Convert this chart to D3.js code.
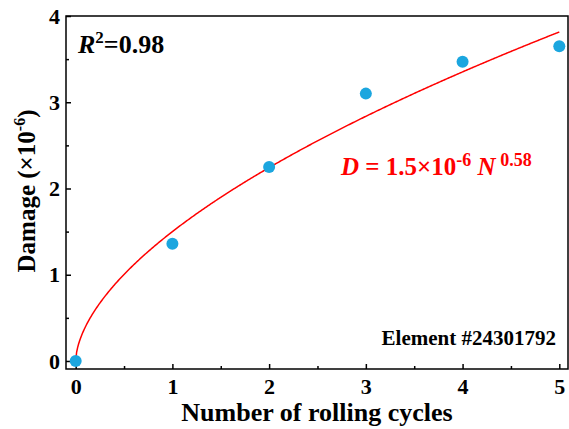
<!DOCTYPE html>
<html><head><meta charset="utf-8">
<script src="https://cdn.jsdelivr.net/npm/d3@7"></script>
<style>body{margin:0;background:#fff;} svg{display:block;font-family:"Liberation Serif","Times New Roman",serif;font-weight:bold;}</style>
</head><body>
<svg id="c" width="569" height="429"></svg>
<script>
const cycles = [0, 1, 2, 3, 4, 5];
const damage = [0, 1.36, 2.25, 3.10, 3.47, 3.65];
const xTicks = [0, 1, 2, 3, 4, 5];
const yTicks = [0, 1, 2, 3, 4];
const fitA = 1.5, fitB = 0.58;

const svg = d3.select("#c");
const L = 66, R = 568, T = 16, B = 369;
const x = d3.scaleLinear().domain([-0.1, 5.09]).range([L, R]);
const y = d3.scaleLinear().domain([-0.093, 4]).range([B, T]);

// frame
svg.append("rect").attr("x", L).attr("y", T).attr("width", R - L).attr("height", B - T)
  .attr("fill", "none").attr("stroke", "#000").attr("stroke-width", 1.5);

// axes
const xAx = svg.append("g").attr("transform", `translate(0,${B})`)
  .call(d3.axisBottom(x).tickValues(xTicks).tickSize(-5).tickPadding(9).tickFormat(d3.format("d")));
const xMinor = svg.append("g").attr("transform", `translate(0,${B})`)
  .call(d3.axisBottom(x).tickValues(d3.range(0.5, 5, 1)).tickSize(-3).tickFormat(""));
const yAx = svg.append("g").attr("transform", `translate(${L},0)`)
  .call(d3.axisLeft(y).tickValues(yTicks).tickSize(-5).tickPadding(6).tickFormat(d3.format("d")));
const yMinor = svg.append("g").attr("transform", `translate(${L},0)`)
  .call(d3.axisLeft(y).tickValues(d3.range(0.5, 4, 1)).tickSize(-3).tickFormat(""));
[xAx, xMinor, yAx, yMinor].forEach(g => {
  g.select(".domain").remove();
  g.selectAll("line").attr("stroke", "#000").attr("stroke-width", 1.5);
  g.selectAll("text").attr("font-family", "Liberation Serif").attr("font-weight", "bold")
    .attr("font-size", 22).attr("fill", "#000");
});

// fit curve
const fitPts = d3.range(0, 5.0001, 0.01).map(n => [n, fitA * Math.pow(n, fitB)]);
svg.append("path").datum(fitPts)
  .attr("d", d3.line().x(d => x(d[0])).y(d => y(d[1])))
  .attr("fill", "none").attr("stroke", "#ff0000").attr("stroke-width", 1.5);

// points
svg.selectAll("circle.pt").data(cycles).enter().append("circle")
  .attr("cx", (d) => x(d)).attr("cy", (d, i) => y(damage[i])).attr("r", 6)
  .attr("fill", "#1ba6df");

// axis titles
svg.append("text").attr("x", 317).attr("y", 421).attr("text-anchor", "middle")
  .attr("font-size", 26).text("Number of rolling cycles");
const yt = svg.append("text").attr("transform", `translate(35,191) rotate(-90)`)
  .attr("text-anchor", "middle").attr("font-size", 25);
yt.append("tspan").text("Damage (×10");
yt.append("tspan").attr("font-size", 16).attr("dy", -10).text("-6");
yt.append("tspan").attr("dy", 10).text(")");

// R²
const r2 = svg.append("text").attr("x", 78).attr("y", 53).attr("font-size", 26);
r2.append("tspan").attr("font-style", "italic").text("R");
r2.append("tspan").attr("font-size", 17).attr("dy", -10).text("2");
r2.append("tspan").attr("dy", 10).text("=0.98");

// equation
const eq = svg.append("text").attr("x", 341).attr("y", 175).attr("font-size", 25).attr("fill", "#ff0000");
eq.append("tspan").attr("font-style", "italic").text("D");
eq.append("tspan").text(" = 1.5×10");
eq.append("tspan").attr("font-size", 18).attr("dy", -9).text("-6");
eq.append("tspan").attr("dy", 9).attr("font-style", "italic").text(" N");
eq.append("tspan").attr("font-size", 18).attr("dy", -9).text(" 0.58");

// element label
svg.append("text").attr("x", 556).attr("y", 345).attr("text-anchor", "end")
  .attr("font-size", 21).text("Element #24301792");
</script>
</body></html>
